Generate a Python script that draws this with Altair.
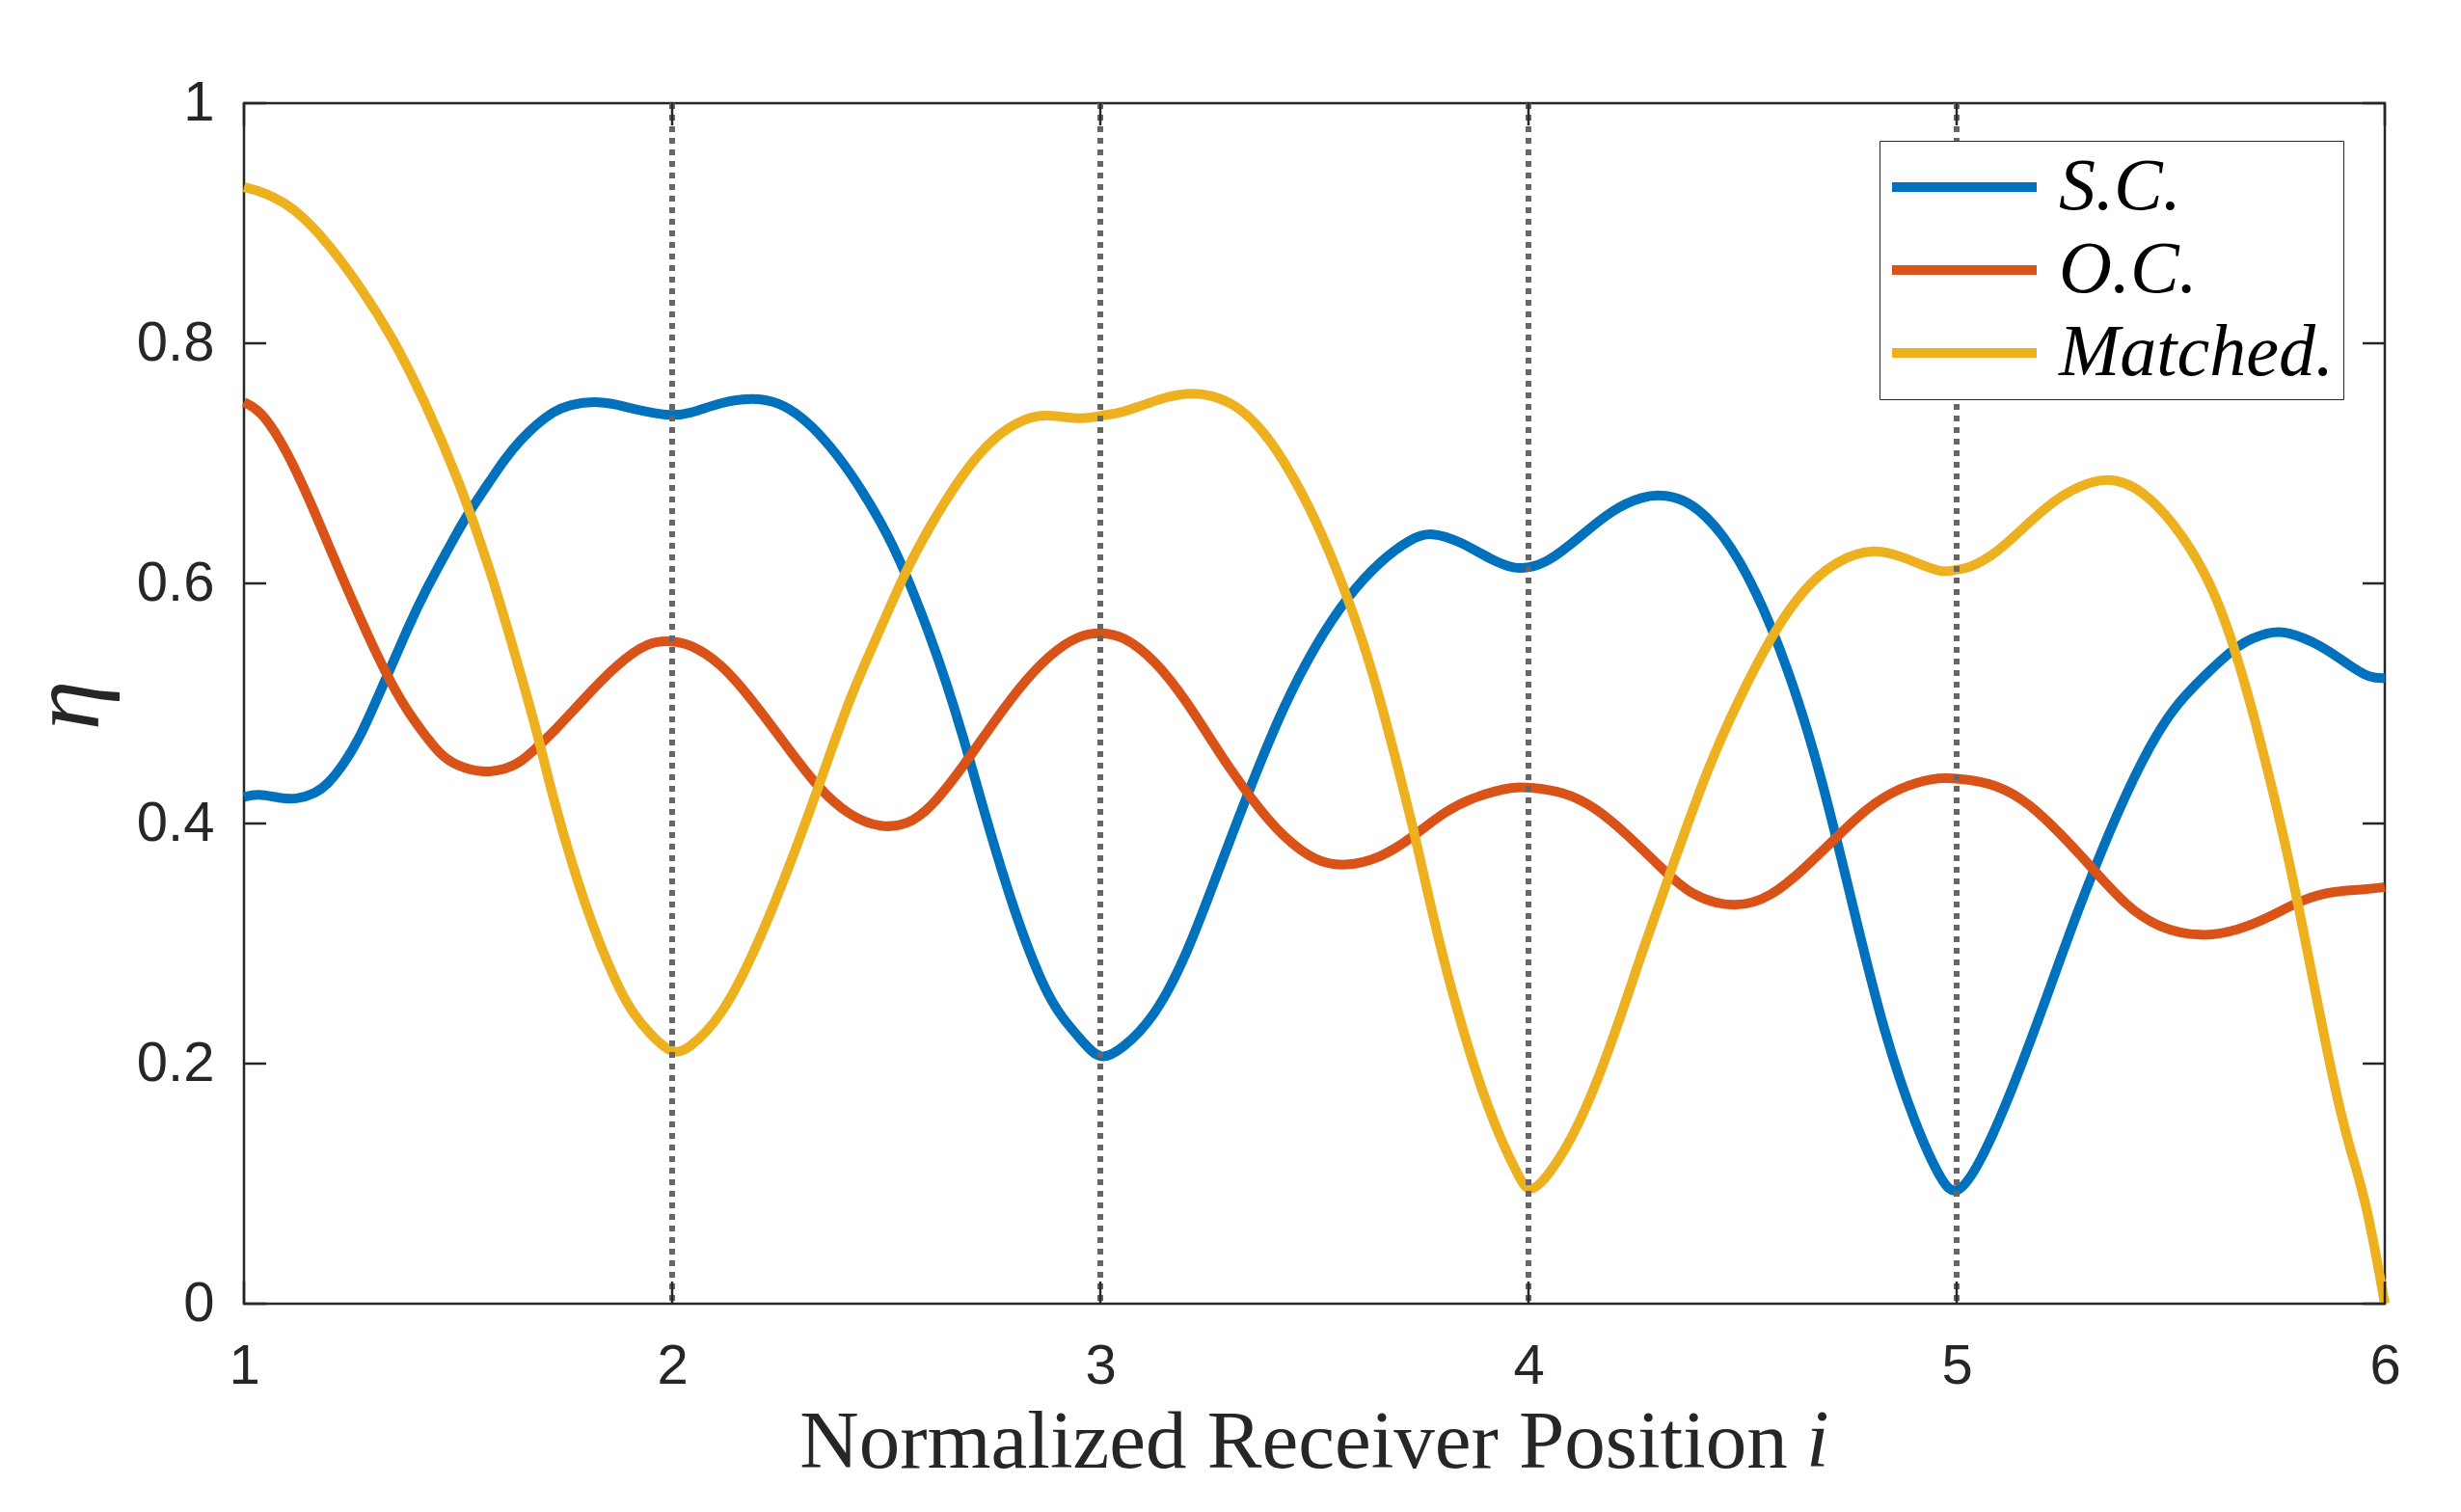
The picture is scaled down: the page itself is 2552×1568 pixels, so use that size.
import altair as alt
import pandas as pd

# ---- data ----
sc_x = [1.000, 1.031, 1.084, 1.122, 1.167, 1.197, 1.234, 1.272, 1.332, 1.384, 1.422, 1.497, 1.523,
        1.572, 1.610, 1.647, 1.685, 1.722, 1.760, 1.820, 1.872, 1.910, 1.970, 2.000,
        2.039, 2.114, 2.189, 2.249, 2.302, 2.354, 2.414, 2.489, 2.542, 2.602, 2.640, 2.685, 2.715,
        2.790, 2.865, 2.910, 2.962, 3.000,
        3.051, 3.126, 3.202, 3.277, 3.353, 3.428, 3.504, 3.579, 3.654, 3.728, 3.773, 3.841, 3.916,
        3.968, 4.000,
        4.043, 4.118, 4.193, 4.268, 4.320, 4.380, 4.455, 4.530, 4.605, 4.680, 4.755, 4.830, 4.905,
        4.965, 5.000,
        5.056, 5.131, 5.206, 5.281, 5.357, 5.432, 5.507, 5.582, 5.657, 5.732, 5.770, 5.845, 5.920,
        5.965, 6.000]
sc_y = [0.422, 0.425, 0.421, 0.420, 0.425, 0.433, 0.450, 0.472, 0.521, 0.564, 0.593, 0.642, 0.658,
        0.684, 0.704, 0.720, 0.733, 0.743, 0.749, 0.752, 0.749, 0.745, 0.741, 0.740,
        0.741, 0.751, 0.755, 0.751, 0.739, 0.721, 0.694, 0.651, 0.612, 0.557, 0.518, 0.466, 0.427,
        0.335, 0.264, 0.238, 0.217, 0.202,
        0.212, 0.238, 0.290, 0.362, 0.433, 0.498, 0.550, 0.590, 0.619, 0.638, 0.643, 0.635, 0.619,
        0.612, 0.613,
        0.617, 0.638, 0.661, 0.673, 0.674, 0.668, 0.642, 0.596, 0.531, 0.446, 0.335, 0.225, 0.147,
        0.101, 0.088,
        0.117, 0.179, 0.251, 0.326, 0.394, 0.453, 0.498, 0.524, 0.550, 0.560, 0.560, 0.550, 0.531,
        0.521, 0.521]

oc_x = [1.000, 1.039, 1.084, 1.122, 1.167, 1.197, 1.272, 1.332, 1.384, 1.422, 1.459, 1.497, 1.557,
        1.610, 1.647, 1.692, 1.722, 1.797, 1.872, 1.947, 2.000,
        2.039, 2.114, 2.189, 2.264, 2.339, 2.414, 2.489, 2.550, 2.602, 2.677, 2.752, 2.827, 2.902,
        2.962, 3.000,
        3.051, 3.126, 3.202, 3.277, 3.353, 3.428, 3.504, 3.571, 3.654, 3.728, 3.803, 3.878, 3.968,
        4.000,
        4.080, 4.155, 4.230, 4.305, 4.380, 4.485, 4.568, 4.643, 4.718, 4.793, 4.868, 4.943, 5.000,
        5.094, 5.169, 5.244, 5.319, 5.394, 5.469, 5.574, 5.657, 5.732, 5.807, 5.882, 5.957, 6.000]
oc_y = [0.751, 0.744, 0.720, 0.694, 0.658, 0.632, 0.570, 0.524, 0.492, 0.474, 0.457, 0.448, 0.442,
        0.445, 0.451, 0.466, 0.476, 0.505, 0.533, 0.552, 0.552,
        0.550, 0.534, 0.502, 0.466, 0.430, 0.406, 0.396, 0.399, 0.412, 0.446, 0.485, 0.521, 0.547,
        0.558, 0.559,
        0.557, 0.537, 0.502, 0.459, 0.420, 0.388, 0.368, 0.364, 0.371, 0.388, 0.410, 0.423, 0.431,
        0.430,
        0.427, 0.414, 0.391, 0.365, 0.339, 0.329, 0.339, 0.362, 0.388, 0.414, 0.430, 0.438, 0.438,
        0.433, 0.417, 0.391, 0.362, 0.332, 0.313, 0.305, 0.311, 0.322, 0.337, 0.344, 0.345, 0.347]

m_x = [1.000, 1.047, 1.122, 1.197, 1.272, 1.347, 1.422, 1.497, 1.572, 1.647, 1.692, 1.722, 1.797,
       1.872, 1.910, 1.947, 2.000,
       2.039, 2.114, 2.189, 2.264, 2.339, 2.414, 2.489, 2.542, 2.602, 2.677, 2.752, 2.827, 2.872,
       2.962, 3.000,
       3.036, 3.089, 3.141, 3.202, 3.262, 3.314, 3.367, 3.427, 3.502, 3.570, 3.615, 3.653, 3.728,
       3.765, 3.803, 3.878, 3.938, 3.976, 4.000,
       4.043, 4.118, 4.193, 4.268, 4.343, 4.418, 4.493, 4.568, 4.643, 4.718, 4.808, 4.883, 4.965,
       5.000,
       5.026, 5.094, 5.169, 5.244, 5.319, 5.372, 5.432, 5.507, 5.582, 5.634, 5.694, 5.770, 5.807,
       5.882, 5.920, 5.957, 6.000]
m_y = [0.930, 0.926, 0.912, 0.883, 0.847, 0.805, 0.752, 0.690, 0.616, 0.524, 0.466, 0.420, 0.329,
       0.264, 0.241, 0.225, 0.207,
       0.212, 0.238, 0.290, 0.355, 0.427, 0.505, 0.564, 0.608, 0.648, 0.691, 0.723, 0.738, 0.741,
       0.736, 0.740,
       0.741, 0.747, 0.754, 0.759, 0.757, 0.749, 0.733, 0.704, 0.655, 0.596, 0.550, 0.505, 0.401,
       0.342, 0.283, 0.189, 0.134, 0.107, 0.091,
       0.104, 0.147, 0.215, 0.296, 0.371, 0.446, 0.505, 0.557, 0.596, 0.619, 0.630, 0.621, 0.608,
       0.612,
       0.612, 0.625, 0.651, 0.674, 0.686, 0.687, 0.678, 0.651, 0.609, 0.564, 0.492, 0.381, 0.316,
       0.179, 0.127, 0.085, 0.000]

series_names = ["S.C.", "O.C.", "Matched."]
series_colors = ["#0072BD", "#D95319", "#EDB120"]
x_ticks = [1, 2, 3, 4, 5, 6]
y_ticks = [0, 0.2, 0.4, 0.6, 0.8, 1]
guide_x = [2, 3, 4, 5]

# ---- build table ----
rows = []
for name, xs, ys in zip(series_names, [sc_x, oc_x, m_x], [sc_y, oc_y, m_y]):
    for i, (a, b) in enumerate(zip(xs, ys)):
        rows.append({"x": a, "y": b, "series": name, "order": i})
df = pd.DataFrame(rows)

W, H = 2220, 1245
TICK = 23
INK = "#262626"

xscale = alt.Scale(domain=[1, 6], nice=False, zero=False)
yscale = alt.Scale(domain=[0, 1], nice=False, zero=False)

x_axis = alt.Axis(values=x_ticks, format="d", grid=False, ticks=False, domain=False,
                  labelFont="Liberation Sans", labelFontSize=58, labelColor=INK, labelPadding=36,
                  labelFlush=False,
                  title="Normalized Receiver Position", titleFont="Liberation Serif",
                  titleFontSize=85, titleFontWeight="normal", titleColor=INK,
                  titleX=1088, titleY=169, titleAlign="center", titleBaseline="alphabetic")
y_axis = alt.Axis(values=y_ticks, format="~g", grid=False, ticks=False, domain=False,
                  labelFont="Liberation Sans", labelFontSize=58, labelColor=INK, labelPadding=31,
                  labelFlush=False,
                  title="η", titleFont="Liberation Serif", titleFontStyle="italic",
                  titleFontSize=104, titleFontWeight="normal", titleColor=INK,
                  titleAngle=270, titleX=-152, titleY=624, titleAlign="center",
                  titleBaseline="alphabetic")

lines = alt.Chart(df).mark_line(strokeWidth=10, interpolate="basis").encode(
    x=alt.X("x:Q", scale=xscale, axis=x_axis),
    y=alt.Y("y:Q", scale=yscale, axis=y_axis),
    color=alt.Color("series:N",
                    scale=alt.Scale(domain=series_names, range=series_colors),
                    legend=alt.Legend(title=None, orient="none", legendX=1696, legendY=39,
                                      symbolType="M-1.4,0H4.6", symbolSize=2500,
                                      symbolStrokeWidth=10, labelOffset=100, labelLimit=0,
                                      labelFont="Liberation Serif", labelFontStyle="italic",
                                      labelFontSize=76, labelColor="black",
                                      rowPadding=10, padding=10,
                                      strokeColor=INK, fillColor="white")),
    order="order:Q",
)

guides = alt.Chart(pd.DataFrame({"g": guide_x})).mark_rule(
    color="#666666", strokeWidth=6, strokeDash=[6, 6]
).encode(x=alt.X("g:Q", scale=xscale, axis=x_axis))

tdf_y = pd.DataFrame({"v": y_ticks})
tdf_x = pd.DataFrame({"v": x_ticks})
yt_left = alt.Chart(tdf_y).mark_rule(color=INK, strokeWidth=2.5).encode(
    y=alt.Y("v:Q", scale=yscale, axis=y_axis), x=alt.value(0), x2=alt.value(TICK))
yt_right = alt.Chart(tdf_y).mark_rule(color=INK, strokeWidth=2.5).encode(
    y=alt.Y("v:Q", scale=yscale, axis=y_axis), x=alt.value(W - TICK), x2=alt.value(W))
xt_bottom = alt.Chart(tdf_x).mark_rule(color=INK, strokeWidth=2.5).encode(
    x=alt.X("v:Q", scale=xscale, axis=x_axis), y=alt.value(H), y2=alt.value(H - TICK))
xt_top = alt.Chart(tdf_x).mark_rule(color=INK, strokeWidth=2.5).encode(
    x=alt.X("v:Q", scale=xscale, axis=x_axis), y=alt.value(0), y2=alt.value(TICK))

ital_i = alt.Chart(pd.DataFrame({"t": ["i"]})).mark_text(
    font="Liberation Serif", fontStyle="italic", fontSize=85, color=INK,
    align="left", baseline="alphabetic"
).encode(text="t:N", x=alt.value(1620), y=alt.value(H + 169))

chart = alt.layer(lines, guides, yt_left, yt_right, xt_bottom, xt_top, ital_i).properties(
    width=W, height=H,
    autosize=alt.AutoSizeParams(type="none"),
    padding={"left": 245, "top": 99, "right": 71, "bottom": 200},
    background="white",
).configure_view(stroke=INK, strokeWidth=2.5)

chart.save("out.html", embed_options={"renderer": "svg", "actions": False})
